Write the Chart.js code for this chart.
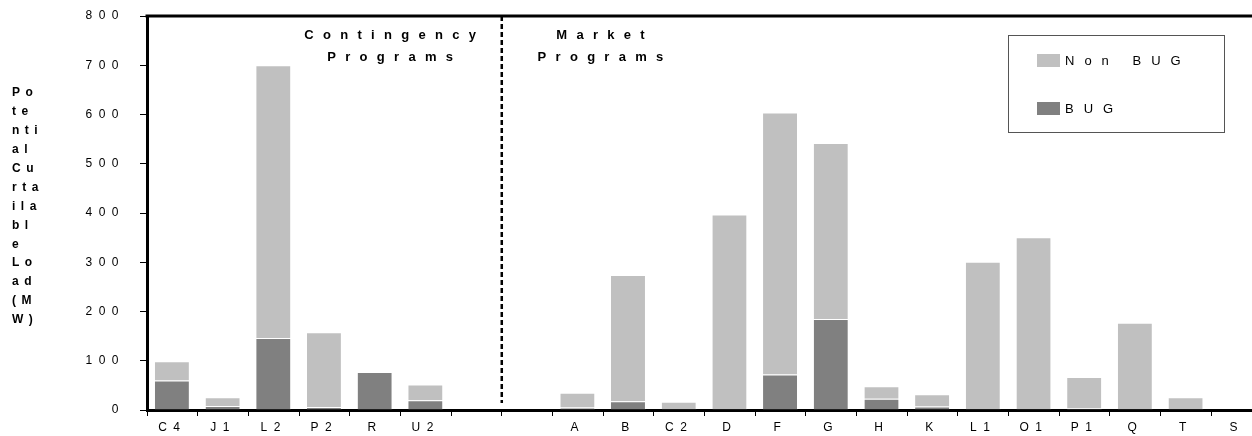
<!DOCTYPE html>
<html>
<head>
<meta charset="utf-8">
<script src="https://cdn.jsdelivr.net/npm/chart.js@4/dist/chart.umd.min.js"></script>
<style>
  html, body { margin: 0; padding: 0; background: #fff; overflow: hidden; }
  #wrap { width: 1264px; height: 436px; }
</style>
</head>
<body>
<div id="wrap"><canvas id="myChart" width="1264" height="436"></canvas></div>
<script>
// programs, two empty slots separate contingency from market programs
const programs = ['C4', 'J1', 'L2', 'P2', 'R', 'U2', '', '', 'A', 'B', 'C2', 'D', 'F', 'G', 'H', 'K', 'L1', 'O1', 'P1', 'Q', 'T', 'S'];
const bug    = [60, 8, 146, 6, 77, 20, null, null, 5, 18, 2, 2, 72, 185, 23, 7, 2, 2, 3, 2, 2, 0];
const nonBug = [39, 18, 554, 152, 0, 32, null, null, 30, 256, 15, 395, 532, 357, 25, 25, 299, 349, 64, 175, 24, 0];
const yTicks = [0, 100, 200, 300, 400, 500, 600, 700, 800];
const yTitleLines = ['Po', 'te', 'nti', 'al', 'Cu', 'rta', 'ila', 'bl', 'e', 'Lo', 'ad', '(M', 'W)'];
const groupTitles = [['Contingency', 'Programs'], ['Market', 'Programs']];

const light = '#c0c0c0';
const dark = '#808080';
const FONT = 'Arial, "Liberation Sans", sans-serif';

// spaced out text like the original, drawn by hand
function spacedText(ctx, text, x, y, spacing, align) {
    ctx.letterSpacing = spacing + 'px';
    ctx.textAlign = align;
    ctx.textBaseline = 'middle';
    ctx.fillText(text, x, y);
}

const extras = {
    id: 'extras',
    beforeDraw(chart) {
        chart.ctx.letterSpacing = '6.5px';
    },
    afterDraw(chart) {
        const ctx = chart.ctx;
        const area = chart.chartArea;
        const x = chart.scales.x;
        ctx.save();

        // top frame line
        ctx.strokeStyle = '#000';
        ctx.lineWidth = 3;
        ctx.beginPath();
        ctx.moveTo(area.left - 1.5, area.top);
        ctx.lineTo(area.right, area.top);
        ctx.stroke();

        // dashed divider between the two program groups
        const divX = (x.getPixelForValue(6) + x.getPixelForValue(7)) / 2;
        ctx.lineWidth = 2.5;
        ctx.setLineDash([5, 3]);
        ctx.beginPath();
        ctx.moveTo(divX, area.top);
        ctx.lineTo(divX, area.bottom - 7);
        ctx.stroke();
        ctx.setLineDash([]);

        // group titles
        ctx.fillStyle = '#000';
        ctx.font = 'bold 13px ' + FONT;
        const cx = [x.getPixelForValue(4.3), x.getPixelForValue(8.45)];
        groupTitles.forEach((lines, i) => {
            lines.forEach((t, j) => spacedText(ctx, t, cx[i] + 4.5, 35 + j * 22, 9.3, 'center'));
        });

        // y axis title, broken into short lines
        ctx.font = 'bold 12px ' + FONT;
        yTitleLines.forEach((t, i) => spacedText(ctx, t, 12, 93 + i * 18.9, 5.5, 'left'));

        // legend box
        ctx.strokeStyle = '#555';
        ctx.lineWidth = 1;
        ctx.strokeRect(1008.5, 35.5, 216, 97);
        const items = [chart.data.datasets[1], chart.data.datasets[0]];
        ctx.font = '13px ' + FONT;
        items.forEach((ds, i) => {
            const yy = 60 + i * 48;
            ctx.fillStyle = ds.backgroundColor;
            ctx.fillRect(1037, yy - 6, 23, 13);
            ctx.fillStyle = '#000';
            spacedText(ctx, ds.label, 1065, yy + 1, 10, 'left');
        });
        ctx.restore();
    }
};

new Chart('myChart', {
    type: 'bar',
    data: {
        labels: programs,
        datasets: [
            { label: 'BUG', data: bug, backgroundColor: dark, borderColor: 'rgba(255,255,255,0.3)', borderWidth: { top: 1, right: 1 } },
            { label: 'Non BUG', data: nonBug, backgroundColor: light, borderColor: 'rgba(255,255,255,0.3)', borderWidth: { top: 1, right: 1 } }
        ]
    },
    options: {
        responsive: false,
        animation: false,
        devicePixelRatio: 1,
        layout: { padding: { left: 0, top: 16, right: 2, bottom: 0 } },
        datasets: { bar: { categoryPercentage: 1, barPercentage: 0.69 } },
        plugins: {
            legend: { display: false },
            tooltip: { enabled: false }
        },
        scales: {
            x: {
                stacked: true,
                border: { color: '#000', width: 3 },
                grid: { offset: true, drawOnChartArea: false, tickLength: 6, color: '#000' },
                ticks: { color: '#000', font: { family: FONT, size: 12 }, padding: 4, maxRotation: 0, autoSkip: false },
                afterFit(scale) {
                    scale.height = 26;
                    scale.paddingLeft = 0;
                    scale.paddingRight = 0;
                }
            },
            y: {
                stacked: true,
                min: 0,
                max: 800,
                border: { color: '#000', width: 3 },
                grid: { drawOnChartArea: false, tickLength: 7, color: '#000' },
                afterBuildTicks(scale) { scale.ticks = yTicks.map(v => ({ value: v })); },
                ticks: { color: '#000', font: { family: FONT, size: 12 }, padding: 15 },
                afterFit(scale) {
                    scale.width = 147;
                    scale.paddingTop = 0;
                    scale.paddingBottom = 0;
                }
            }
        }
    },
    plugins: [extras]
});
</script>
</body>
</html>
